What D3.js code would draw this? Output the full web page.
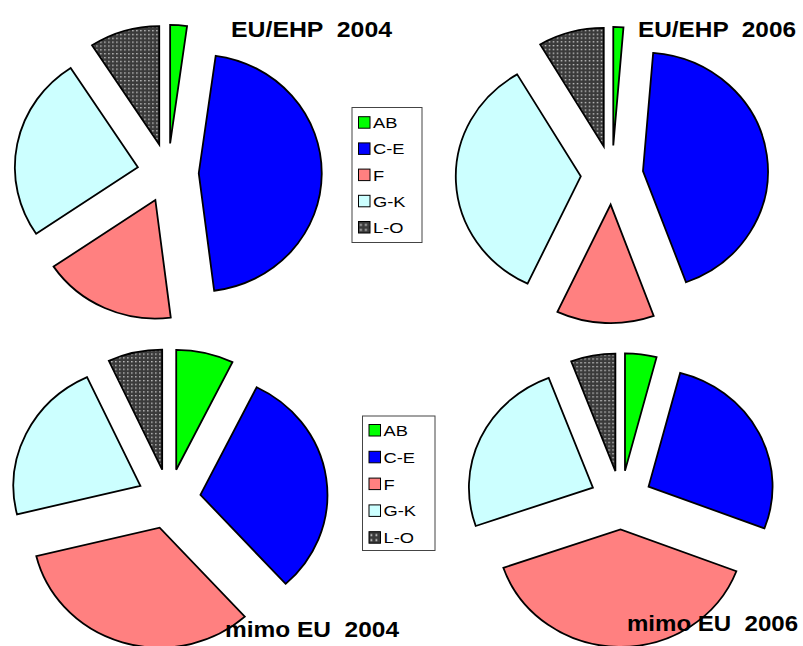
<!DOCTYPE html>
<html>
<head>
<meta charset="utf-8">
<script src="https://cdn.jsdelivr.net/npm/d3@7"></script>
<style>
  html, body { margin: 0; padding: 0; background: #fff; }
  svg { display: block; }
  text { font-family: "Liberation Sans", Arial, sans-serif; }
</style>
</head>
<body>
<svg id="chart" width="803" height="646"></svg>
<script>
// ---- data (shares in %) ----
const categories = ["AB", "C-E", "F", "G-K", "L-O"];
const euEhp2004  = [2.2, 45.8, 17.5, 25.3, 9.2];
const euEhp2006  = [1.3, 43.1, 12.6, 34.5, 8.5];
const mimoEu2004 = [7.3, 31.0, 32.9, 21.9, 6.9];
const mimoEu2006 = [4.1, 26.7, 38.9, 24.5, 5.8];
const titles = ["EU/EHP  2004", "EU/EHP  2006", "mimo EU  2004", "mimo EU  2006"];

// ---- styles / layout ----
const colors = ["#00ff00", "#0000ff", "#ff8080", "#ccffff", "url(#dots)"];
const swatch = ["#00ff00", "#0000ff", "#ff8080", "#ccffff", "url(#dotsSmall)"];
const explode = 0.25;

const pies = [
  { values: euEhp2004,  cx: 168, cy: 173, rx: 123, ry: 118.5, title: titles[0], tx: 231, ty: 37,  tw: 161 },
  { values: euEhp2006,  cx: 612, cy: 175, rx: 125, ry: 118.5, title: titles[1], tx: 638, ty: 37,  tw: 158 },
  { values: mimoEu2004, cx: 169, cy: 499, rx: 127, ry: 120,   title: titles[2], tx: 225, ty: 637, tw: 174 },
  { values: mimoEu2006, cx: 621, cy: 500, rx: 124, ry: 117.5, title: titles[3], tx: 627, ty: 631, tw: 171 }
];
const legends = [
  { x: 352, y: 107.5, w: 70, h: 135, first: 122.7, step: 26.2 },
  { x: 362.5, y: 416, w: 72.5, h: 134.5, first: 430.5, step: 26.8 }
];

const svg = d3.select("#chart");
const defs = svg.append("defs");

function dotPattern(id, size, r, off) {
  const p = defs.append("pattern").attr("id", id)
    .attr("patternUnits", "userSpaceOnUse").attr("width", size).attr("height", size);
  p.append("rect").attr("width", size).attr("height", size).attr("fill", "#3a3a3a");
  p.append("rect").attr("x", off).attr("y", off).attr("width", r).attr("height", r).attr("fill", "#d4d4d4");
}
dotPattern("dots", 4, 1.4, 1);
dotPattern("dotsSmall", 5, 1.8, 1.5);

const pie = d3.pie().sort(null).value(d => d).startAngle(0).endAngle(2 * Math.PI);

pies.forEach(p => {
  const arc = d3.arc().innerRadius(0).outerRadius(p.rx);
  const g = svg.append("g");
  g.selectAll("path")
    .data(pie(p.values))
    .join("path")
    .attr("d", arc)
    .attr("transform", d => {
      const mid = (d.startAngle + d.endAngle) / 2;
      const dx = explode * p.rx * Math.sin(mid);
      const dy = -explode * p.ry * Math.cos(mid);
      return `translate(${p.cx + dx},${p.cy + dy}) scale(1,${p.ry / p.rx})`;
    })
    .attr("fill", (d, i) => colors[i])
    .attr("stroke", "#000")
    .attr("stroke-width", 1.8)
    .attr("stroke-linejoin", "miter")
    .attr("vector-effect", "non-scaling-stroke");
});

legends.forEach(L => {
  const g = svg.append("g");
  g.append("rect")
    .attr("x", L.x).attr("y", L.y).attr("width", L.w).attr("height", L.h)
    .attr("fill", "#fff").attr("stroke", "#444").attr("stroke-width", 1);
  const items = g.selectAll("g.item").data(categories).join("g")
    .attr("transform", (d, i) => `translate(${L.x + 6.5},${L.first + i * L.step})`);
  items.append("rect")
    .attr("x", 0).attr("y", -6).attr("width", 11.5).attr("height", 11.5)
    .attr("fill", (d, i) => swatch[i]).attr("stroke", "#000").attr("stroke-width", 1);
  items.append("text")
    .attr("transform", "translate(14.5,5.5) scale(1.22,1)")
    .attr("font-size", 15).attr("fill", "#000")
    .text(d => d);
});

pies.forEach(p => {
  svg.append("text")
    .attr("x", p.tx).attr("y", p.ty)
    .attr("font-size", 22).attr("font-weight", "bold")
    .attr("fill", "#000")
    .attr("textLength", p.tw)
    .attr("lengthAdjust", "spacingAndGlyphs")
    .style("white-space", "pre")
    .text(p.title);
});
</script>
</body>
</html>
